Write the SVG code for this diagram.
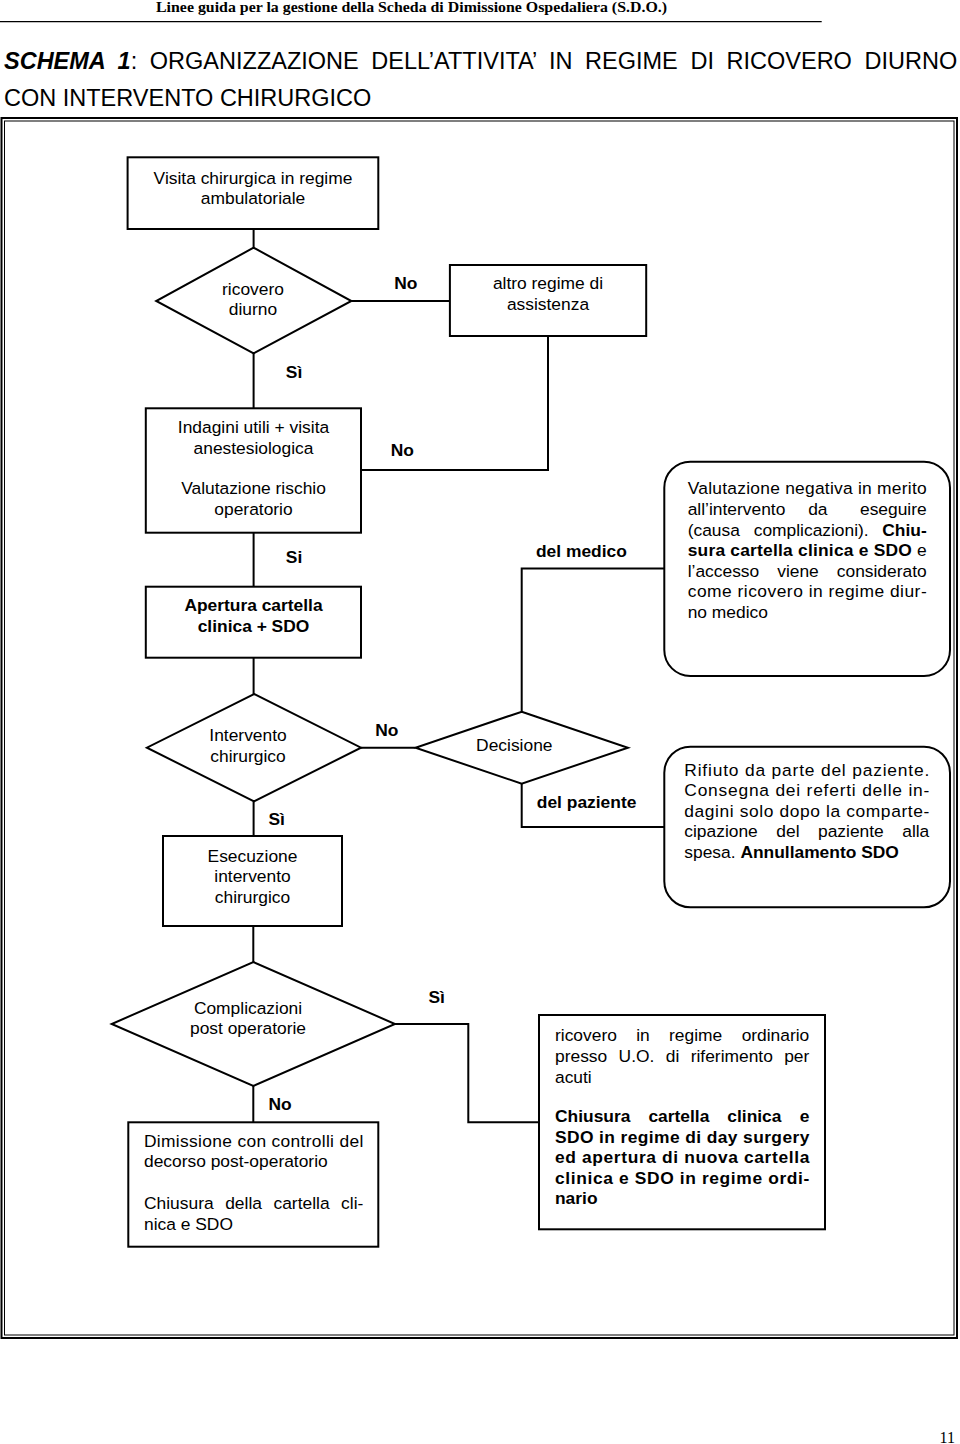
<svg xmlns="http://www.w3.org/2000/svg" width="960" height="1444" viewBox="0 0 960 1444">
<style>
.box{fill:#fff;stroke:#000;stroke-width:2}
.conn{fill:none;stroke:#000;stroke-width:2}
.t{font-family:"Liberation Sans",Arial,sans-serif;font-size:17.4px;fill:#000}
.c{text-anchor:middle}
.e{text-anchor:end}
.b{font-weight:bold}
.hd{font-family:"Liberation Serif","Times New Roman",serif;font-weight:bold;font-size:15px;fill:#000}
.ti{font-family:"Liberation Sans",Arial,sans-serif;font-size:23.5px;fill:#000}
</style>
<rect x="0" y="0" width="960" height="1444" fill="#fff"/>
<g id="page-header">
<text class="hd" x="156" y="12" textLength="511" lengthAdjust="spacingAndGlyphs">Linee guida per la gestione della Scheda di Dimissione Ospedaliera (S.D.O.)</text>
<line x1="0" y1="21.7" x2="821.7" y2="21.7" stroke="#000" stroke-width="1.3"/>
<text class="ti" x="4" y="69" word-spacing="6.1"><tspan font-weight="bold" font-style="italic">SCHEMA 1</tspan>: ORGANIZZAZIONE DELL’ATTIVITA’ IN REGIME DI RICOVERO DIURNO</text>
<text class="ti" x="4" y="106">CON INTERVENTO CHIRURGICO</text>
<rect x="1.5" y="118" width="955.5" height="1220" fill="none" stroke="#000" stroke-width="2"/>
<rect x="4.5" y="121" width="949.5" height="1214" fill="none" stroke="#000" stroke-width="1"/>
<text x="955" y="1442.5" text-anchor="end" font-family="'Liberation Serif','Times New Roman',serif" font-size="16" fill="#000">11</text>
</g>
<g id="connectors">
<path class="conn" d="M253.6,229 V247.7"/>
<path class="conn" d="M351.4,301 H449.9"/>
<path class="conn" d="M253.6,353.3 V408.3"/>
<path class="conn" d="M548,336 V470 H361"/>
<path class="conn" d="M253.6,532.7 V586.7"/>
<path class="conn" d="M253.6,657.7 V694"/>
<path class="conn" d="M361,747.7 H415.5"/>
<path class="conn" d="M521.7,711.7 V568.5 H664.3"/>
<path class="conn" d="M521.7,783.7 V827 H664.3"/>
<path class="conn" d="M253.6,801.4 V836"/>
<path class="conn" d="M253.3,926 V962"/>
<path class="conn" d="M395,1024 H468.3 V1122.3 H539"/>
<path class="conn" d="M253.3,1086 V1122.3"/>
<g class="t b c">
<text x="405.8" y="289">No</text>
<text x="294" y="378">Sì</text>
<text x="402.4" y="456">No</text>
<text x="294" y="563">Si</text>
<text x="581.4" y="557">del medico</text>
<text x="386.9" y="736">No</text>
<text x="586.6" y="807.5">del paziente</text>
<text x="276.7" y="825">Sì</text>
<text x="436.7" y="1002.5">Sì</text>
<text x="280" y="1110">No</text>
</g>
</g>
<g id="n-visita">
<rect class="box" x="127.6" y="157.3" width="250.7" height="71.7"/>
<text class="t c" x="253" y="183.5">Visita chirurgica in regime</text>
<text class="t c" x="253" y="204">ambulatoriale</text>
</g>
<g id="n-ricovero">
<polygon class="box" points="253.6,247.7 351.4,301 253.6,353.3 156.2,301"/>
<text class="t c" x="253" y="294.5">ricovero</text>
<text class="t c" x="253" y="315">diurno</text>
</g>
<g id="n-altro">
<rect class="box" x="449.9" y="265" width="196.3" height="71"/>
<text class="t c" x="548" y="289">altro regime di</text>
<text class="t c" x="548" y="310">assistenza</text>
</g>
<g id="n-indagini">
<rect class="box" x="145.8" y="408.3" width="215.2" height="124.4"/>
<text class="t c" x="253.5" y="433.3">Indagini utili + visita</text>
<text class="t c" x="253.5" y="453.8">anestesiologica</text>
<text class="t c" x="253.5" y="494.3">Valutazione rischio</text>
<text class="t c" x="253.5" y="514.8">operatorio</text>
</g>
<g id="n-apertura">
<rect class="box" x="145.8" y="586.7" width="215.2" height="71"/>
<text class="t c b" x="253.5" y="611">Apertura cartella</text>
<text class="t c b" x="253.5" y="631.5">clinica + SDO</text>
</g>
<g id="n-valutazione-negativa">
<rect class="box" x="664.3" y="461.7" width="285.7" height="214.3" rx="26" ry="26"/>
<text class="t" x="687.7" y="494.3" textLength="239" lengthAdjust="spacing">Valutazione negativa in merito</text>
<text class="t" y="515"><tspan x="687.7">all’intervento</tspan><tspan x="808.2">da</tspan></text>
<text class="t e" x="926.7" y="515">eseguire</text>
<text class="t" y="535.5"><tspan x="687.7">(causa</tspan><tspan x="753.7">complicazioni).</tspan></text>
<text class="t e b" x="926.7" y="535.5">Chiu-</text>
<text class="t" x="687.7" y="556" textLength="239" lengthAdjust="spacing"><tspan font-weight="bold">sura cartella clinica e SDO</tspan> e</text>
<text class="t" y="576.5"><tspan x="687.7">l’accesso</tspan><tspan x="777.2">viene</tspan></text>
<text class="t e" x="926.7" y="576.5">considerato</text>
<text class="t" x="687.7" y="597" textLength="239" lengthAdjust="spacing">come ricovero in regime diur-</text>
<text class="t" x="687.7" y="617.5">no medico</text>
</g>
<g id="n-intervento">
<polygon class="box" points="254,694 361,747.7 254,801.4 146.9,747.7"/>
<text class="t c" x="248" y="741">Intervento</text>
<text class="t c" x="248" y="761.5">chirurgico</text>
</g>
<g id="n-decisione">
<polygon class="box" points="521.7,711.7 627.9,747.7 521.7,783.7 415.5,747.7"/>
<text class="t c" x="514.3" y="751">Decisione</text>
</g>
<g id="n-rifiuto">
<rect class="box" x="664.3" y="746.7" width="285.7" height="160.6" rx="26" ry="26"/>
<text class="t" x="684.3" y="775.5" textLength="245" lengthAdjust="spacing">Rifiuto da parte del paziente.</text>
<text class="t" x="684.3" y="796" textLength="245" lengthAdjust="spacing">Consegna dei referti delle in-</text>
<text class="t" x="684.3" y="816.5" textLength="245" lengthAdjust="spacing">dagini solo dopo la comparte-</text>
<text class="t" y="837"><tspan x="684.3">cipazione</tspan><tspan x="776.3">del</tspan><tspan x="818">paziente</tspan></text>
<text class="t e" x="929.3" y="837">alla</text>
<text class="t" x="684.3" y="857.5">spesa. <tspan font-weight="bold">Annullamento SDO</tspan></text>
</g>
<g id="n-esecuzione">
<rect class="box" x="163" y="836" width="179" height="90"/>
<text class="t c" x="252.5" y="861.5">Esecuzione</text>
<text class="t c" x="252.5" y="882">intervento</text>
<text class="t c" x="252.5" y="902.5">chirurgico</text>
</g>
<g id="n-complicazioni">
<polygon class="box" points="253.3,962 395,1024 253.3,1086 111.7,1024"/>
<text class="t c" x="248" y="1014">Complicazioni</text>
<text class="t c" x="248" y="1034">post operatorie</text>
</g>
<g id="n-dimissione">
<rect class="box" x="128.3" y="1122.3" width="250" height="124.4"/>
<text class="t" x="144" y="1146.5" textLength="219.3" lengthAdjust="spacing">Dimissione con controlli del</text>
<text class="t" x="144" y="1167">decorso post-operatorio</text>
<text class="t" y="1209"><tspan x="144">Chiusura</tspan><tspan x="225.2">della</tspan><tspan x="273.5">cartella</tspan></text>
<text class="t e" x="363.3" y="1209">cli-</text>
<text class="t" x="144" y="1229.5">nica e SDO</text>
</g>
<g id="n-ricovero-ordinario">
<rect class="box" x="539" y="1015" width="286" height="214.3"/>
<text class="t" y="1041"><tspan x="555">ricovero</tspan><tspan x="636.2">in</tspan><tspan x="669">regime</tspan></text>
<text class="t e" x="809.3" y="1041">ordinario</text>
<text class="t" y="1062"><tspan x="555">presso</tspan><tspan x="618.6">U.O.</tspan><tspan x="665.8">di</tspan><tspan x="690.7">riferimento</tspan></text>
<text class="t e" x="809.3" y="1062">per</text>
<text class="t" x="555" y="1082.5">acuti</text>
<text class="t b" y="1121.5"><tspan x="555">Chiusura</tspan><tspan x="648.4">cartella</tspan><tspan x="727.3">clinica</tspan></text>
<text class="t b e" x="809.3" y="1121.5">e</text>
<text class="t b" x="555" y="1142.5" textLength="254.3" lengthAdjust="spacing">SDO in regime di day surgery</text>
<text class="t b" x="555" y="1163" textLength="254.3" lengthAdjust="spacing">ed apertura di nuova cartella</text>
<text class="t b" x="555" y="1183.5" textLength="254.3" lengthAdjust="spacing">clinica e SDO in regime ordi-</text>
<text class="t b" x="555" y="1204">nario</text>
</g>
</svg>
